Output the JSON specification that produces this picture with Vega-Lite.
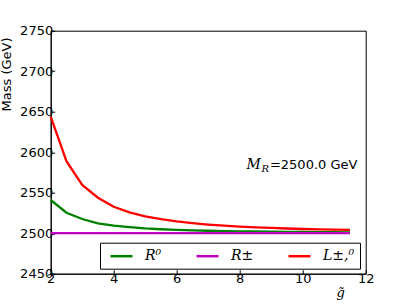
{
  "$schema": "https://vega.github.io/schema/vega-lite/v6.json",
  "width": 315,
  "height": 243,
  "autosize": {"type": "none"},
  "padding": {"left": 50.7, "top": 30.7, "right": 41.3, "bottom": 31.3},
  "background": "white",
  "config": {
    "view": {"stroke": "black", "strokeWidth": 1},
    "axis": {
      "grid": false,
      "domainColor": "black",
      "tickColor": "black",
      "labelColor": "black",
      "labelFont": "DejaVu Sans",
      "labelFontSize": 13,
      "titleColor": "black"
    }
  },
  "datasets": {
    "lines": [
      {"g": 2, "mass": 2541.0, "series": "R⁰"},
      {"g": 2.5, "mass": 2525.3, "series": "R⁰"},
      {"g": 3, "mass": 2517.5, "series": "R⁰"},
      {"g": 3.5, "mass": 2512.2, "series": "R⁰"},
      {"g": 4, "mass": 2509.3, "series": "R⁰"},
      {"g": 4.5, "mass": 2507.6, "series": "R⁰"},
      {"g": 5, "mass": 2506.0, "series": "R⁰"},
      {"g": 5.5, "mass": 2504.9, "series": "R⁰"},
      {"g": 6, "mass": 2504.1, "series": "R⁰"},
      {"g": 6.5, "mass": 2503.5, "series": "R⁰"},
      {"g": 7, "mass": 2503.0, "series": "R⁰"},
      {"g": 7.5, "mass": 2502.65, "series": "R⁰"},
      {"g": 8, "mass": 2502.3, "series": "R⁰"},
      {"g": 8.5, "mass": 2502.1, "series": "R⁰"},
      {"g": 9, "mass": 2501.8, "series": "R⁰"},
      {"g": 9.5, "mass": 2501.65, "series": "R⁰"},
      {"g": 10, "mass": 2501.5, "series": "R⁰"},
      {"g": 10.5, "mass": 2501.35, "series": "R⁰"},
      {"g": 11, "mass": 2501.2, "series": "R⁰"},
      {"g": 11.5, "mass": 2501.1, "series": "R⁰"},
      {"g": 2, "mass": 2500, "series": "R±"},
      {"g": 2.5, "mass": 2500, "series": "R±"},
      {"g": 3, "mass": 2500, "series": "R±"},
      {"g": 3.5, "mass": 2500, "series": "R±"},
      {"g": 4, "mass": 2500, "series": "R±"},
      {"g": 4.5, "mass": 2500, "series": "R±"},
      {"g": 5, "mass": 2500, "series": "R±"},
      {"g": 5.5, "mass": 2500, "series": "R±"},
      {"g": 6, "mass": 2500, "series": "R±"},
      {"g": 6.5, "mass": 2500, "series": "R±"},
      {"g": 7, "mass": 2500, "series": "R±"},
      {"g": 7.5, "mass": 2500, "series": "R±"},
      {"g": 8, "mass": 2500, "series": "R±"},
      {"g": 8.5, "mass": 2500, "series": "R±"},
      {"g": 9, "mass": 2500, "series": "R±"},
      {"g": 9.5, "mass": 2500, "series": "R±"},
      {"g": 10, "mass": 2500, "series": "R±"},
      {"g": 10.5, "mass": 2500, "series": "R±"},
      {"g": 11, "mass": 2500, "series": "R±"},
      {"g": 11.5, "mass": 2500, "series": "R±"},
      {"g": 2, "mass": 2643.8, "series": "L±,⁰"},
      {"g": 2.5, "mass": 2589.0, "series": "L±,⁰"},
      {"g": 3, "mass": 2559.5, "series": "L±,⁰"},
      {"g": 3.5, "mass": 2543.8, "series": "L±,⁰"},
      {"g": 4, "mass": 2532.7, "series": "L±,⁰"},
      {"g": 4.5, "mass": 2525.8, "series": "L±,⁰"},
      {"g": 5, "mass": 2520.9, "series": "L±,⁰"},
      {"g": 5.5, "mass": 2517.3, "series": "L±,⁰"},
      {"g": 6, "mass": 2514.5, "series": "L±,⁰"},
      {"g": 6.5, "mass": 2512.4, "series": "L±,⁰"},
      {"g": 7, "mass": 2510.7, "series": "L±,⁰"},
      {"g": 7.5, "mass": 2509.3, "series": "L±,⁰"},
      {"g": 8, "mass": 2508.2, "series": "L±,⁰"},
      {"g": 8.5, "mass": 2507.2, "series": "L±,⁰"},
      {"g": 9, "mass": 2506.5, "series": "L±,⁰"},
      {"g": 9.5, "mass": 2505.8, "series": "L±,⁰"},
      {"g": 10, "mass": 2505.2, "series": "L±,⁰"},
      {"g": 10.5, "mass": 2504.7, "series": "L±,⁰"},
      {"g": 11, "mass": 2504.3, "series": "L±,⁰"},
      {"g": 11.5, "mass": 2504.0, "series": "L±,⁰"}
    ],
    "ann": [
      {"g": 8.96, "mass": 2579.3, "sym": "M", "sub": "R", "val": "=2500.0 GeV"}
    ]
  },
  "layer": [
    {
      "data": {"name": "lines"},
      "mark": {"type": "line", "strokeWidth": 2.3},
      "encoding": {
        "x": {
          "field": "g", "type": "quantitative",
          "scale": {"domain": [2, 12], "nice": false, "zero": false},
          "axis": {
            "orient": "bottom", "values": [2, 4, 6, 8, 10, 12], "format": "d",
            "tickSize": -4, "labelPadding": 3, "labelFlush": false,
            "title": "g̃", "titleFont": "DejaVu Serif", "titleFontStyle": "italic",
            "titleFontWeight": "normal", "titleFontSize": 13,
            "titleX": 289.5, "titleY": 23, "titleBaseline": "alphabetic", "titleAlign": "center"
          }
        },
        "y": {
          "field": "mass", "type": "quantitative",
          "scale": {"domain": [2450, 2750], "nice": false, "zero": false},
          "axis": {
            "orient": "left", "values": [2450, 2500, 2550, 2600, 2650, 2700, 2750], "format": "d",
            "tickSize": -4, "labelPadding": 2, "labelFlush": false,
            "title": "Mass (GeV)", "titleFont": "DejaVu Sans", "titleFontWeight": "normal",
            "titleFontSize": 13, "titleAngle": -90, "titleX": -40.7, "titleY": 43.3,
            "titleBaseline": "alphabetic", "titleAlign": "center"
          }
        },
        "color": {
          "field": "series", "type": "nominal",
          "scale": {"domain": ["R⁰", "R±", "L±,⁰"], "range": ["#008000", "#bf00bf", "#ff0000"]},
          "legend": {
            "orient": "none", "legendX": 49.3, "legendY": 212,
            "direction": "horizontal", "columns": 3, "title": null,
            "gridAlign": "none",
            "symbolType": "M-1.571,0H1.571", "symbolSize": 196, "symbolStrokeWidth": 2.5,
            "symbolOffset": 8,
            "labelFont": "DejaVu Serif", "labelFontStyle": "italic", "labelFontSize": 14,
            "labelColor": "black", "labelOffset": 15,
            "strokeColor": "black", "fillColor": "white", "padding": 5,
            "columnPadding": 29
          }
        }
      }
    },
    {
      "data": {"name": "ann"},
      "mark": {"type": "text", "align": "left", "baseline": "alphabetic", "font": "DejaVu Sans", "fontSize": 13, "color": "black"},
      "encoding": {
        "x": {"field": "g", "type": "quantitative"},
        "y": {"field": "mass", "type": "quantitative"},
        "text": {"field": "val"}
      }
    },
    {
      "data": {"name": "ann"},
      "mark": {"type": "text", "align": "right", "baseline": "alphabetic", "dx": -9, "font": "DejaVu Serif", "fontStyle": "italic", "fontSize": 14, "color": "black"},
      "encoding": {
        "x": {"field": "g", "type": "quantitative"},
        "y": {"field": "mass", "type": "quantitative"},
        "text": {"field": "sym"}
      }
    },
    {
      "data": {"name": "ann"},
      "mark": {"type": "text", "align": "right", "baseline": "alphabetic", "dx": -1, "dy": 3, "font": "DejaVu Serif", "fontStyle": "italic", "fontSize": 10, "color": "black"},
      "encoding": {
        "x": {"field": "g", "type": "quantitative"},
        "y": {"field": "mass", "type": "quantitative"},
        "text": {"field": "sub"}
      }
    }
  ]
}
